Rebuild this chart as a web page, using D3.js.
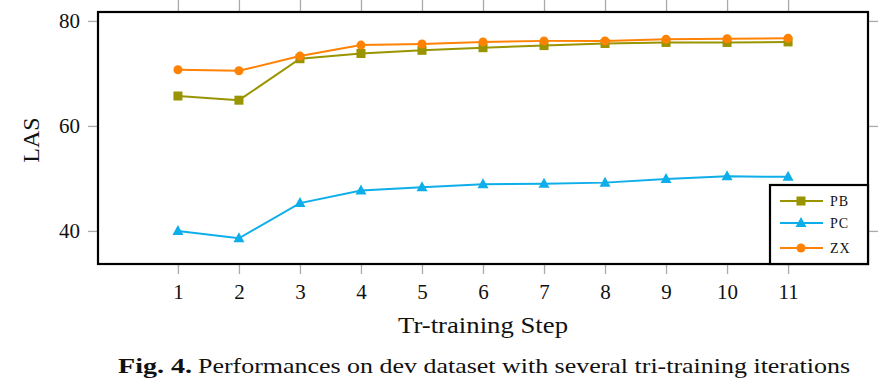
<html>
<head>
<meta charset="utf-8">
<title>LAS by training step</title>
<script src="https://cdn.jsdelivr.net/npm/d3@7"></script>
<style>
  body { margin: 0; background: #fff; }
  text { font-family: "Liberation Serif", "DejaVu Serif", serif; fill: #111; }
</style>
</head>
<body>
<script>
// data
var steps = [1, 2, 3, 4, 5, 6, 7, 8, 9, 10, 11];
var pbValues = [65.7, 64.9, 72.8, 73.8, 74.4, 74.9, 75.3, 75.7, 75.9, 75.9, 76.0];
var pcValues = [40.0, 38.6, 45.3, 47.7, 48.3, 48.9, 49.0, 49.2, 49.9, 50.4, 50.3];
var zxValues = [70.7, 70.5, 73.3, 75.4, 75.6, 76.0, 76.2, 76.2, 76.5, 76.6, 76.7];
var yTicks = [40, 60, 80];
var seriesNames = ["PB", "PC", "ZX"];

var width = 885, height = 385;
var box = {left: 98, right: 868, top: 12, bottom: 264};

var svg = d3.select("body").append("svg")
    .attr("width", width)
    .attr("height", height);

var x = d3.scaleLinear().domain([-0.31, 12.31]).range([box.left, box.right]);
var y = d3.scaleLinear().domain([33.7, 81.7]).range([box.bottom, box.top]);

var series = [
  {name: seriesNames[0], values: pbValues, color: "#9a9400", marker: "square"},
  {name: seriesNames[1], values: pcValues, color: "#0eaeea", marker: "triangle"},
  {name: seriesNames[2], values: zxValues, color: "#ff8205", marker: "circle"}
];

// ticks, mirrored on all four sides, pointing outward
var tickColor = "#aaa";
var bottomAxis = d3.axisBottom(x).tickValues(steps).tickSize(10).tickPadding(10).tickFormat(d3.format("d"));
var topAxis = d3.axisTop(x).tickValues(steps).tickSize(12).tickFormat("");
var leftAxis = d3.axisLeft(y).tickValues(yTicks).tickSize(10).tickPadding(8);
var rightAxis = d3.axisRight(y).tickValues(yTicks).tickSize(10).tickFormat("");

function styleAxis(g) {
  g.select(".domain").remove();
  g.selectAll(".tick line").attr("stroke", tickColor).attr("stroke-width", 1.3);
  g.selectAll(".tick text").style("font-size", "21px").style("font-family", "Liberation Serif, serif").attr("fill", "#111");
}

svg.append("g").attr("transform", "translate(0," + box.bottom + ")").call(bottomAxis).call(styleAxis);
svg.append("g").attr("transform", "translate(0," + box.top + ")").call(topAxis).call(styleAxis);
svg.append("g").attr("transform", "translate(" + box.left + ",0)").call(leftAxis).call(styleAxis);
svg.append("g").attr("transform", "translate(" + box.right + ",0)").call(rightAxis).call(styleAxis);

// lines + markers
var line = d3.line()
    .x(function(d, i) { return x(steps[i]); })
    .y(function(d) { return y(d); });

function drawMarker(g, type, cx, cy, color) {
  if (type == "square") {
    g.append("rect").attr("x", cx - 4.5).attr("y", cy - 4.5).attr("width", 9).attr("height", 9).attr("fill", color);
  } else if (type == "triangle") {
    g.append("path").attr("d", "M" + cx + "," + (cy - 6) + "L" + (cx + 5.5) + "," + (cy + 4) + "L" + (cx - 5.5) + "," + (cy + 4) + "Z").attr("fill", color);
  } else {
    g.append("circle").attr("cx", cx).attr("cy", cy).attr("r", 4.5).attr("fill", color);
  }
}

var plot = svg.append("g");
series.forEach(function(s) {
  plot.append("path")
      .datum(s.values)
      .attr("d", line)
      .attr("fill", "none")
      .attr("stroke", s.color)
      .attr("stroke-width", 2);
  s.values.forEach(function(v, i) {
    drawMarker(plot, s.marker, x(steps[i]), y(v), s.color);
  });
});

// frame
svg.append("rect")
    .attr("x", box.left).attr("y", box.top)
    .attr("width", box.right - box.left).attr("height", box.bottom - box.top)
    .attr("fill", "none").attr("stroke", "#000").attr("stroke-width", 2.2);

// legend
var legend = svg.append("g");
legend.append("rect")
    .attr("x", 770).attr("y", 185).attr("width", 98).attr("height", 79)
    .attr("fill", "#fff").attr("stroke", "#000").attr("stroke-width", 2.2);
var rowY = [201, 223, 248];
series.forEach(function(s, i) {
  legend.append("line")
      .attr("x1", 780).attr("x2", 823).attr("y1", rowY[i]).attr("y2", rowY[i])
      .attr("stroke", s.color).attr("stroke-width", 2);
  drawMarker(legend, s.marker, 801, rowY[i], s.color);
  legend.append("text")
      .attr("x", 830).attr("y", rowY[i] + 5)
      .style("font-size", "14px")
      .style("letter-spacing", "1px")
      .text(s.name);
});

// axis titles
svg.append("text")
    .attr("x", 398).attr("y", 333)
    .style("font-size", "23px")
    .attr("textLength", 170).attr("lengthAdjust", "spacingAndGlyphs")
    .text("Tr-training Step");

svg.append("text")
    .attr("transform", "translate(39,140) rotate(-90)")
    .attr("text-anchor", "middle")
    .style("font-size", "24px")
    .text("LAS");

// caption
svg.append("text").attr("x", 118).attr("y", 373)
    .style("font-size", "21px").style("font-weight", "bold")
    .attr("textLength", 74).attr("lengthAdjust", "spacingAndGlyphs")
    .text("Fig. 4.");
svg.append("text").attr("x", 198).attr("y", 373)
    .style("font-size", "21px")
    .attr("textLength", 652).attr("lengthAdjust", "spacingAndGlyphs")
    .text("Performances on dev dataset with several tri-training iterations");
</script>
</body>
</html>
